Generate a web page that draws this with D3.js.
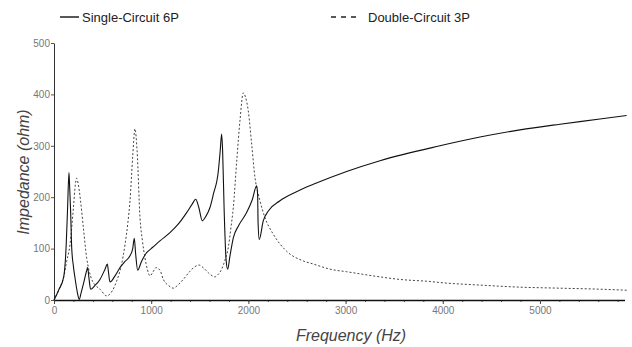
<!DOCTYPE html>
<html>
<head>
<meta charset="utf-8">
<script src="https://cdn.jsdelivr.net/npm/d3@7"></script>
<style>
  body { margin: 0; background: #fff; }
  .tick-label { font-family: "Liberation Sans Narrow", "Arial Narrow", "Liberation Sans", sans-serif; font-size: 10px; fill: #777; }
  .axis-title { font-family: "Liberation Sans", Arial, sans-serif; font-style: italic; font-size: 16px; fill: #444; }
  .legend-text { font-family: "Liberation Sans", Arial, sans-serif; font-size: 13px; fill: #222; }
</style>
</head>
<body>
<script>
'use strict';

// series: Single-Circuit 6P (solid)
const singleFreq = [0, 50, 100, 125, 140, 154, 162, 171, 182, 200, 216, 240, 260, 280, 302, 336, 346, 360, 377,
  420, 473, 525, 549, 560, 576, 628, 679, 730, 782, 810, 826, 840, 861, 900, 953, 1000, 1090, 1193, 1280,
  1365, 1420, 1458, 1490, 1526, 1560, 1605, 1640, 1691, 1710, 1725, 1735, 1750, 1770, 1787, 1810, 1845, 1900,
  1982, 2040, 2085, 2095, 2100, 2112, 2153, 2205, 2325, 2500, 2668, 3011, 3354, 3971, 4383,
  4794, 5206, 5617, 5892];
const singleZ = [0, 20, 45, 105, 180, 248, 215, 173, 102, 65, 43, 15, 1, 15, 31, 57, 63, 42, 21,
  28, 40, 60, 70, 55, 35, 47, 63, 75, 86, 100, 120, 90, 58, 75, 92, 100, 115, 131, 148,
  170, 186, 196, 180, 154, 162, 180, 206, 251, 290, 323, 290, 180, 80, 60, 85, 121, 145,
  170, 195, 222, 205, 150, 118, 154, 173, 193, 211, 225, 250, 271, 300, 317,
  331, 342, 352, 359];

// series: Double-Circuit 3P (dashed)
const doubleFreq = [0, 50, 100, 130, 165, 200, 220, 233, 250, 275, 302, 336, 360, 388, 430, 473, 542, 600, 645,
  690, 731, 760, 782, 810, 833, 855, 885, 910, 936, 960, 988, 1020, 1049, 1090, 1125, 1180, 1227, 1280,
  1330, 1400, 1450, 1495, 1540, 1588, 1656, 1690, 1725, 1760, 1793, 1820, 1845, 1880, 1914, 1948, 1970,
  1999, 2034, 2068, 2094, 2119, 2171, 2256, 2393, 2565, 2668, 2840, 3011, 3354, 3560, 3868, 3971, 4383,
  4794, 5206, 5617, 5892];
const doubleZ = [0, 20, 45, 75, 108, 180, 225, 237, 225, 190, 141, 82, 58, 40, 28, 21, 8, 18, 37,
  65, 108, 150, 193, 280, 333, 290, 160, 115, 82, 60, 47, 55, 63, 58, 40, 28, 23, 30,
  40, 56, 65, 68, 62, 53, 45, 50, 60, 78, 102, 140, 180, 270, 350, 403, 395,
  368, 303, 238, 212, 193, 160, 128, 95, 76, 70, 60, 55, 45, 40, 36, 34, 29,
  25, 23, 21, 19];

const xMajorTicks = [0, 1000, 2000, 3000, 4000, 5000];
const xMinorTicks = d3.range(0, 5801, 200);
const yTicks = [0, 100, 200, 300, 400, 500];
const seriesNames = ["Single-Circuit 6P", "Double-Circuit 3P"];

const width = 632, height = 347;

const svg = d3.select('body')
  .append('svg')
  .attr('width', width)
  .attr('height', height);

const xScale = d3.scaleLinear().domain([0, 5870]).range([54, 624.5]);
const yScale = d3.scaleLinear().domain([0, 500]).range([300, 43]);

// minor x ticks (no labels)
svg.append('g')
  .attr('transform', `translate(0, ${yScale(0)})`)
  .call(d3.axisBottom(xScale).tickValues(xMinorTicks).tickSize(2).tickFormat('').tickSizeOuter(0))
  .call(g => g.select('.domain').remove())
  .call(g => g.selectAll('line').attr('stroke', '#555'));

// major x ticks + axis line
svg.append('g')
  .attr('transform', `translate(0, ${yScale(0)})`)
  .call(d3.axisBottom(xScale).tickValues(xMajorTicks).tickFormat(d3.format('d'))
    .tickSize(4).tickSizeOuter(0).tickPadding(3))
  .call(g => g.select('.domain').attr('stroke', '#111').attr('stroke-width', 1.6))
  .call(g => g.selectAll('line').attr('stroke', '#444'))
  .call(g => g.selectAll('text').attr('class', 'tick-label').attr('fill', null));

// y axis
svg.append('g')
  .attr('transform', `translate(${xScale(0)}, 0)`)
  .call(d3.axisLeft(yScale).tickValues(yTicks).tickFormat(d3.format('d'))
    .tickSize(3).tickSizeOuter(0).tickPadding(1))
  .call(g => g.select('.domain').attr('stroke', '#333').attr('stroke-width', 1))
  .call(g => g.selectAll('line').attr('stroke', '#555'))
  .call(g => g.selectAll('text').attr('class', 'tick-label').attr('fill', null));

// lines
const line = d3.line()
  .x(d => xScale(d[0]))
  .y(d => yScale(d[1]))
  .curve(d3.curveMonotoneX);

svg.append('path')
  .datum(doubleFreq.map((f, i) => [f, doubleZ[i]]))
  .attr('fill', 'none')
  .attr('stroke', '#444')
  .attr('stroke-width', 1)
  .attr('stroke-dasharray', '2,2')
  .attr('d', line);

svg.append('path')
  .datum(singleFreq.map((f, i) => [f, singleZ[i]]))
  .attr('fill', 'none')
  .attr('stroke', '#111')
  .attr('stroke-width', 1.1)
  .attr('d', line);

// legend
svg.append('line')
  .attr('x1', 60).attr('x2', 79).attr('y1', 17).attr('y2', 17)
  .attr('stroke', '#111').attr('stroke-width', 1.4);
svg.append('text')
  .attr('class', 'legend-text')
  .attr('x', 82).attr('y', 22)
  .text(seriesNames[0]);

svg.append('line')
  .attr('x1', 331).attr('x2', 359).attr('y1', 17).attr('y2', 17)
  .attr('stroke', '#222').attr('stroke-width', 1.4)
  .attr('stroke-dasharray', '5,5');
svg.append('text')
  .attr('class', 'legend-text')
  .attr('x', 368).attr('y', 22)
  .text(seriesNames[1]);

// axis titles
svg.append('text')
  .attr('class', 'axis-title')
  .attr('text-anchor', 'middle')
  .attr('transform', 'translate(29, 172)rotate(-90)')
  .text('Impedance (ohm)');

svg.append('text')
  .attr('class', 'axis-title')
  .attr('text-anchor', 'middle')
  .attr('x', 351).attr('y', 341)
  .text('Frequency (Hz)');
</script>
</body>
</html>
